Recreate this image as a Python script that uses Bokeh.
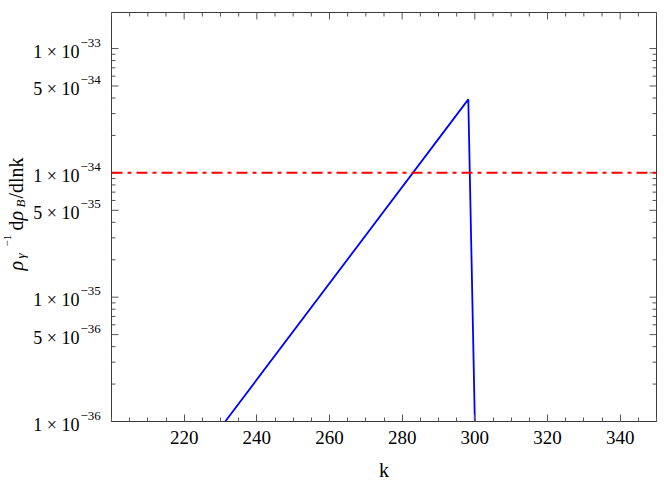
from bokeh.plotting import figure
from bokeh.models import FixedTicker, Range1d, ColumnDataSource
from bokeh.embed import file_html
from bokeh.resources import INLINE
import math

# ---- data ----
k_vals = [231.3, 298.2, 300.0]
rho_vals = [1e-36, 3.9e-34, 1e-36]
threshold = 1e-34

x_ticks = [220, 240, 260, 280, 300, 320, 340]
x_minor = [v for v in range(200, 351, 5) if v not in x_ticks]
y_ticks = [1e-36, 5e-36, 1e-35, 5e-35, 1e-34, 5e-34, 1e-33]
y_tick_mant = ["1 × 10", "5 × 10", "1 × 10", "5 × 10", "1 × 10", "5 × 10", "1 × 10"]
y_tick_exp = ["−36", "−36", "−35", "−35", "−34", "−34", "−33"]
y_minor = [m * 10.0 ** e for e in (-36, -35, -34) for m in (2, 3, 4, 6, 7, 8, 9)]

X0, X1 = 200, 350
Y0, Y1 = 1e-36, 1.95e-33

FONT = "Liberation Serif"
AX_COL = "#3a3a3a"
TK_COL = "#555555"

# ---- layout geometry (canvas pixels) ----
CW, CH = 664, 482
BOX_L, BOX_R, BOX_T, BOX_B = 111, 656, 12, 421
s = (BOX_R - BOX_L) / (X1 - X0)
XL = X0 - BOX_L / s
XR = X1 + (CW - BOX_R) / s
ly0, ly1 = math.log10(Y0), math.log10(Y1)
dd = (ly1 - ly0) / (BOX_B - BOX_T)
YT = 10 ** (ly1 + BOX_T * dd)
YB = 10 ** (ly0 - (CH - BOX_B) * dd)

p = figure(width=CW, height=CH, x_range=Range1d(XL, XR), y_range=Range1d(YB, YT),
           y_axis_type="log", y_axis_location=None, title=None,
           output_backend="svg", toolbar_location=None,
           min_border_left=0, min_border_right=0, min_border_top=0, min_border_bottom=0)
p.outline_line_color = None
p.xgrid.visible = False
p.ygrid.visible = False
p.background_fill_color = "white"
p.border_fill_color = "white"

# bottom axis, pinned to the bottom of the plot box
xa = p.xaxis[0]
xa.fixed_location = Y0
xa.bounds = (X0, X1)
xa.ticker = FixedTicker(ticks=x_ticks, minor_ticks=x_minor)
xa.axis_line_color = AX_COL
xa.major_tick_in = 7
xa.major_tick_out = 0
xa.minor_tick_in = 4
xa.minor_tick_out = 0
xa.major_tick_line_color = TK_COL
xa.minor_tick_line_color = TK_COL
xa.major_label_text_font = FONT
xa.major_label_text_font_size = "19px"
xa.major_label_text_color = "black"
xa.major_label_standoff = 9
xa.axis_label = "k"
xa.axis_label_text_font = FONT
xa.axis_label_text_font_size = "20px"
xa.axis_label_text_font_style = "normal"
xa.axis_label_text_color = "black"
xa.axis_label_standoff = 12

# plot box
p.quad(left=[X0], right=[X1], bottom=[Y0], top=[Y1], fill_color=None,
       line_color=AX_COL, line_width=1)

# left / right / top ticks (screen-length rays from the box edges)
p.ray(x=x_ticks, y=[Y1] * len(x_ticks), length=7, length_units="screen",
      angle=-math.pi / 2, line_color=TK_COL, line_width=1)
p.ray(x=x_minor, y=[Y1] * len(x_minor), length=4, length_units="screen",
      angle=-math.pi / 2, line_color=TK_COL, line_width=1)
for xe, ang in ((X0, 0.0), (X1, math.pi)):
    p.ray(x=[xe] * len(y_ticks), y=y_ticks, length=7, length_units="screen",
          angle=ang, line_color=TK_COL, line_width=1)
    p.ray(x=[xe] * len(y_minor), y=y_minor, length=4, length_units="screen",
          angle=ang, line_color=TK_COL, line_width=1)

# data
p.line(k_vals, rho_vals, line_color="#0000ff", line_width=1.8)
p.line([X0, X1], [threshold, threshold], line_color="#ff0000", line_width=2,
       line_dash="11 5 4 5")

# y tick labels: mantissa × 10 with raised exponent
XB = 79
src = ColumnDataSource(dict(y=y_ticks, m=y_tick_mant, e=y_tick_exp,
                            x=[XL] * len(y_ticks)))
p.text(x="x", y="y", text="m", source=src, x_offset=XB, y_offset=3,
       text_font=FONT, text_font_size="18px", text_align="right",
       text_baseline="middle", text_color="black")
p.text(x="x", y="y", text="e", source=src, x_offset=XB + 1, y_offset=-6,
       text_font=FONT, text_font_size="13px", text_align="left",
       text_baseline="middle", text_color="black")

# y axis label (rotated, with sub/superscripts); offsets in canvas pixels
BX = 15
pieces = [  # text, canvas-y start, baseline shift, size, style
    ("ρ", 270, 0, "20px", "italic"),
    ("γ", 258, 5, "13px", "italic"),
    ("−1", 246, -8, "11px", "normal"),
    ("d", 230, 0, "20px", "normal"),
    ("ρ", 220, 0, "20px", "italic"),
    ("B", 207, 5, "13px", "italic"),
    ("/dlnk", 198, 0, "20px", "normal"),
]
lsrc = ColumnDataSource(dict(
    x=[XL] * len(pieces), y=[YT] * len(pieces),
    xo=[BX + pc[2] for pc in pieces], yo=[pc[1] for pc in pieces],
    t=[pc[0] for pc in pieces], fs=[pc[3] for pc in pieces], st=[pc[4] for pc in pieces],
))
p.text(x="x", y="y", text="t", source=lsrc, x_offset="xo", y_offset="yo",
       angle=math.pi / 2, text_font=FONT, text_font_size="fs", text_font_style="st",
       text_align="left", text_baseline="alphabetic", text_color="black")

open("out.html", "w").write(file_html(p, INLINE))
